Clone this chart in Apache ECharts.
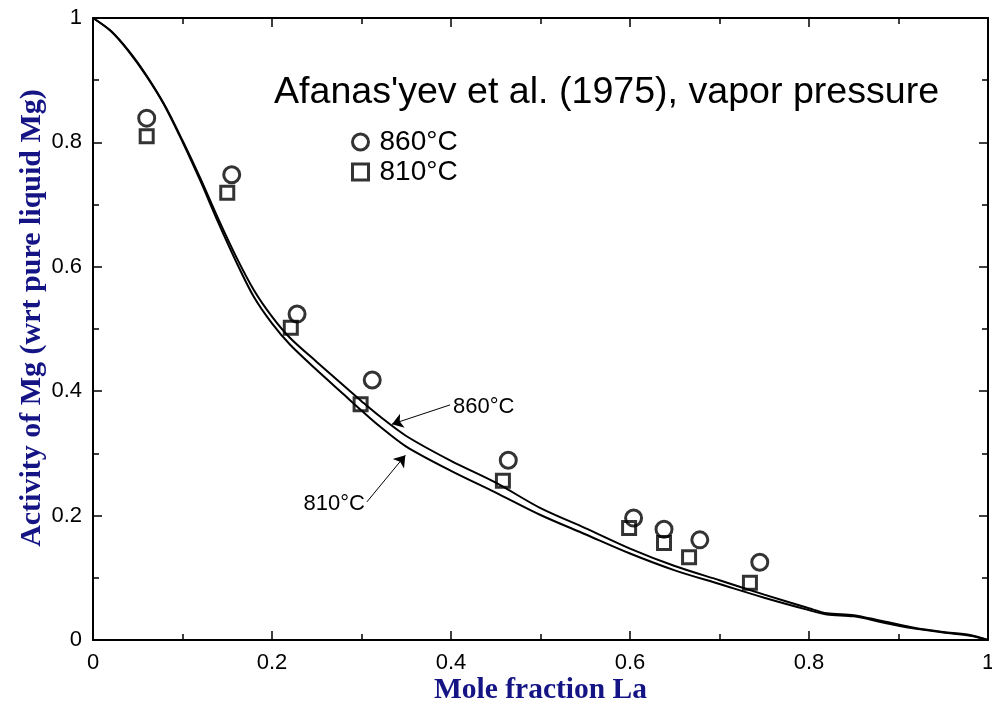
<!DOCTYPE html>
<html>
<head>
<meta charset="utf-8">
<title>Activity of Mg in Mg–La liquid</title>
<script src="https://cdn.jsdelivr.net/npm/echarts@6/dist/echarts.min.js"></script>
<style>
  html, body { margin: 0; padding: 0; background: #ffffff; overflow: hidden; }
  #chart { width: 992px; height: 706px; }
</style>
</head>
<body>
<div id="chart"></div>
<script>
// Calculated activity curves (mole fraction La vs. activity of Mg)
var curveX = [0, 0.02, 0.04, 0.06, 0.08, 0.10, 0.12, 0.14, 0.16, 0.18, 0.20, 0.22, 0.25, 0.28, 0.30, 0.32, 0.35, 0.40, 0.45, 0.50, 0.55, 0.60, 0.65, 0.70, 0.75, 0.80, 0.82, 0.85, 0.88, 0.90, 0.92, 0.95, 0.98, 1.00];
var act860 = [1.000, 0.979, 0.947, 0.907, 0.860, 0.803, 0.742, 0.677, 0.616, 0.562, 0.520, 0.486, 0.447, 0.409, 0.384, 0.360, 0.328, 0.288, 0.253, 0.212, 0.180, 0.147, 0.119, 0.096, 0.073, 0.051, 0.043, 0.040, 0.031, 0.025, 0.019, 0.013, 0.008, 0.000];
var act810 = [1.000, 0.979, 0.946, 0.906, 0.859, 0.801, 0.738, 0.671, 0.608, 0.551, 0.509, 0.475, 0.434, 0.395, 0.369, 0.344, 0.311, 0.272, 0.237, 0.201, 0.170, 0.139, 0.112, 0.090, 0.068, 0.048, 0.041, 0.038, 0.029, 0.023, 0.018, 0.012, 0.007, 0.000];

// Vapor pressure measurements, Afanas'yev et al. (1975)
var exp860X = [0.060, 0.155, 0.228, 0.312, 0.464, 0.604, 0.638, 0.678, 0.745];
var exp860Y = [0.839, 0.748, 0.524, 0.418, 0.289, 0.196, 0.178, 0.161, 0.125];
var exp810X = [0.060, 0.150, 0.221, 0.299, 0.458, 0.599, 0.638, 0.666, 0.734];
var exp810Y = [0.810, 0.719, 0.502, 0.379, 0.256, 0.180, 0.156, 0.133, 0.092];

// Curve labels: arrow tail and head, in data units
var arrow860From = [0.399, 0.378];
var arrow860To = [0.334, 0.347];
var arrow810From = [0.306, 0.222];
var arrow810To = [0.349, 0.297];

var axisTicks = [0, 0.2, 0.4, 0.6, 0.8, 1];

var titleText = "Afanas'yev et al. (1975), vapor pressure";
var xTitle = 'Mole fraction La';
var yTitle = 'Activity of Mg (wrt pure liquid Mg)';

function pairs(xs, ys) {
  return xs.map(function (x, i) { return [x, ys[i]]; });
}

var sans = 'Liberation Sans, Arial, sans-serif';
var serif = 'Liberation Serif, Times New Roman, serif';
var titleBlue = '#141485';

function valueAxis(extra) {
  var base = {
    type: 'value',
    min: axisTicks[0],
    max: axisTicks[axisTicks.length - 1],
    interval: axisTicks[1] - axisTicks[0],
    splitLine: { show: false },
    axisLine: { show: true, onZero: false, lineStyle: { color: '#000', width: 2 } },
    axisTick: { show: true, inside: true, length: 9, lineStyle: { color: '#000', width: 1.5 } },
    minorTick: { show: true, splitNumber: 2, length: 6, lineStyle: { color: '#000', width: 1.5 } },
    axisLabel: { show: false }
  };
  for (var k in extra) base[k] = extra[k];
  return base;
}

function arrowLine(from, to, text, align, offset) {
  return [
    {
      coord: from,
      symbol: 'none',
      label: {
        show: true,
        position: 'start',
        formatter: text,
        distance: 3,
        align: align,
        verticalAlign: 'middle',
        offset: offset,
        fontFamily: sans,
        fontSize: 22,
        color: '#000'
      }
    },
    { coord: to, symbol: 'arrow' }
  ];
}

var chart = echarts.init(document.getElementById('chart'), null, { renderer: 'canvas', width: 992, height: 706 });

chart.setOption({
  animation: false,
  backgroundColor: '#ffffff',
  title: {
    text: titleText,
    left: 269,
    top: 69,
    textStyle: { fontFamily: sans, fontSize: 37.6, fontWeight: 'normal', color: '#000' }
  },
  legend: {
    data: ['860°C', '810°C'],
    orient: 'vertical',
    left: 346,
    top: 123,
    itemWidth: 16,
    itemHeight: 16,
    itemGap: 2,
    itemStyle: { borderWidth: 3, borderColor: '#000', color: 'rgba(255,255,255,0)' },
    textStyle: { fontFamily: sans, fontSize: 28, lineHeight: 28, color: '#000', padding: [0, 0, 0, 6] }
  },
  grid: { left: 93, right: 4, top: 18, bottom: 66, containLabel: false, outerBoundsMode: 'none' },
  xAxis: [
    valueAxis({
      position: 'bottom',
      name: xTitle,
      nameLocation: 'middle',
      nameGap: 35,
      nameMoveOverlap: false,
      nameTextStyle: { fontFamily: serif, fontWeight: 'bold', fontSize: 29.5, color: titleBlue },
      axisLabel: { show: true, margin: 12, fontFamily: sans, fontSize: 22, color: '#000' }
    }),
    valueAxis({ position: 'top' })
  ],
  yAxis: [
    valueAxis({
      position: 'left',
      name: yTitle,
      nameLocation: 'middle',
      nameGap: 46,
      nameMoveOverlap: false,
      nameTextStyle: { fontFamily: serif, fontWeight: 'bold', fontSize: 30, color: titleBlue, padding: [0, 0, 0, 22] },
      axisLabel: { show: true, margin: 11, fontFamily: sans, fontSize: 22, color: '#000' }
    }),
    valueAxis({ position: 'right' })
  ],
  series: [
    {
      name: 'calc 860',
      type: 'line',
      data: pairs(curveX, act860),
      showSymbol: false,
      smooth: 0.3,
      lineStyle: { color: '#000', width: 2 },
      z: 2,
      markLine: {
        silent: true,
        symbolSize: 11,
        lineStyle: { color: '#000', width: 1, type: 'solid' },
        data: [arrowLine(arrow860From, arrow860To, '860°C', 'left', [0, 3])]
      }
    },
    {
      name: 'calc 810',
      type: 'line',
      data: pairs(curveX, act810),
      showSymbol: false,
      smooth: 0.3,
      lineStyle: { color: '#000', width: 2 },
      z: 2,
      markLine: {
        silent: true,
        symbolSize: 11,
        lineStyle: { color: '#000', width: 1, type: 'solid' },
        data: [arrowLine(arrow810From, arrow810To, '810°C', 'right', [0, 0])]
      }
    },
    {
      name: '860°C',
      type: 'scatter',
      data: pairs(exp860X, exp860Y),
      symbol: 'circle',
      symbolSize: 16,
      itemStyle: { color: 'rgba(255,255,255,0)', borderColor: '#000', borderWidth: 3 },
      z: 4
    },
    {
      name: '810°C',
      type: 'scatter',
      data: pairs(exp810X, exp810Y),
      symbol: 'rect',
      symbolSize: 13,
      itemStyle: { color: 'rgba(255,255,255,0)', borderColor: '#000', borderWidth: 3 },
      z: 4
    }
  ]
});
</script>
</body>
</html>
